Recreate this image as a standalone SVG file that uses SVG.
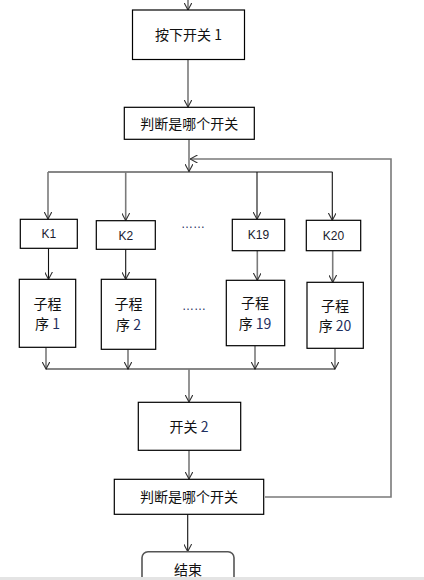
<svg xmlns="http://www.w3.org/2000/svg" width="424" height="580" viewBox="0 0 424 580">
<style>
.box{fill:#fff;stroke:#000;stroke-width:1.2}
.end{fill:#fff;stroke:#555;stroke-width:1.6}
.t{font-family:"Noto Sans CJK SC","Liberation Sans",sans-serif;font-size:14px;fill:#111;text-anchor:middle}
.k{font-family:"Liberation Sans","Noto Sans",sans-serif;font-size:12px;fill:#1a1a2e;text-anchor:middle}
.d{fill:#1f3060}
.g{fill:none;stroke:#7a7a7a;stroke-width:1.6}
.b{fill:none;stroke:#111;stroke-width:1.1}
.dots{font-family:"Liberation Sans",sans-serif;font-size:12px;fill:#1f3060;text-anchor:middle}
</style>
<defs>
<marker id="arr" viewBox="0 0 8 8" refX="7.5" refY="4" markerWidth="8" markerHeight="8" markerUnits="userSpaceOnUse" orient="auto">
<path d="M0,0 L7.5,4 L0,8" fill="none" stroke="#333" stroke-width="1.1"/>
</marker>
</defs>
<rect width="424" height="580" fill="#fff"/>
<g id="connectors">
<path class="g" d="M188,0 V10" marker-end="url(#arr)"/>
<path class="g" d="M188,59.5 V107" marker-end="url(#arr)"/>
<path class="g" d="M189,139.5 V171.5" marker-end="url(#arr)"/>
<path class="g" d="M265,497 H391 V159 H190" marker-end="url(#arr)"/>
<path class="b" d="M48,172 H332.5"/>
<path class="g" d="M48,172 V219" marker-end="url(#arr)"/>
<path class="g" d="M125.7,172 V220.5" marker-end="url(#arr)"/>
<path class="b" d="M257,172 V219.3" marker-end="url(#arr)"/>
<path class="b" d="M332.3,172 V220.3" marker-end="url(#arr)"/>
<path class="b" d="M48.5,248.5 V279.3" marker-end="url(#arr)"/>
<path class="b" d="M125.7,249.5 V279.3" marker-end="url(#arr)"/>
<path class="g" d="M257.3,251 V280.3" marker-end="url(#arr)"/>
<path class="g" d="M332.7,251 V282.3" marker-end="url(#arr)"/>
<path class="g" d="M46,347.5 V369" marker-end="url(#arr)"/>
<path class="g" d="M128,349.5 V369" marker-end="url(#arr)"/>
<path class="g" d="M255,346 V369" marker-end="url(#arr)"/>
<path class="g" d="M335,348.5 V369" marker-end="url(#arr)"/>
<path class="b" d="M46,369 H335"/>
<path class="g" d="M189,369 V402" marker-end="url(#arr)"/>
<path class="g" d="M189,450.5 V479" marker-end="url(#arr)"/>
<path class="b" d="M187.7,514.5 V551.5" marker-end="url(#arr)"/>
</g>
<g id="n-press1"><rect class="box" x="132.5" y="10" width="112" height="49.5"/><text class="t" x="188.5" y="40">按下开关 1</text></g>
<g id="n-judge1"><rect class="box" x="124.3" y="107.3" width="130" height="32"/><text class="t" x="189.3" y="128.5">判断是哪个开关</text></g>
<g id="n-k1"><rect class="box" x="20.3" y="219.3" width="57" height="29"/><text class="k" x="48.8" y="238">K1</text></g>
<g id="n-k2"><rect class="box" x="96.3" y="220.7" width="59" height="28.6"/><text class="k" x="125.8" y="239.5">K2</text></g>
<g id="n-k19"><rect class="box" x="232.3" y="219.3" width="52.4" height="31.4"/><text class="k" x="258.5" y="239">K19</text></g>
<g id="n-k20"><rect class="box" x="306.3" y="220.3" width="54.4" height="30.4"/><text class="k" x="333.5" y="240">K20</text></g>
<text class="dots" x="193" y="228">……</text>
<g id="n-sub1"><rect class="box" x="19.3" y="279.3" width="56.4" height="68"/><text class="t" x="47.5" y="309">子程</text><text class="t" x="47.5" y="329">序 <tspan class="d">1</tspan></text></g>
<g id="n-sub2"><rect class="box" x="101.3" y="279.3" width="54.4" height="70"/><text class="t" x="128.5" y="309">子程</text><text class="t" x="128.5" y="330">序 <tspan class="d">2</tspan></text></g>
<text class="dots" x="194" y="310">……</text>
<g id="n-sub19"><rect class="box" x="226.3" y="280.3" width="58.4" height="65.4"/><text class="t" x="255" y="308">子程</text><text class="t" x="255" y="329">序 <tspan class="d">19</tspan></text></g>
<g id="n-sub20"><rect class="box" x="307" y="282.3" width="56.3" height="66"/><text class="t" x="335" y="311">子程</text><text class="t" x="335" y="331">序 <tspan class="d">20</tspan></text></g>
<g id="n-switch2"><rect class="box" x="138.3" y="402.3" width="102.4" height="48"/><text class="t" x="189" y="432">开关 <tspan class="d">2</tspan></text></g>
<g id="n-judge2"><rect class="box" x="114.3" y="479.3" width="149.4" height="35"/><text class="t" x="189" y="502">判断是哪个开关</text></g>
<g id="n-end"><rect class="end" x="142" y="551.7" width="92" height="40" rx="6"/><text class="t" x="188" y="575">结束</text></g>
<rect x="0" y="577" width="424" height="3" fill="#e4e4e4"/>
</svg>
